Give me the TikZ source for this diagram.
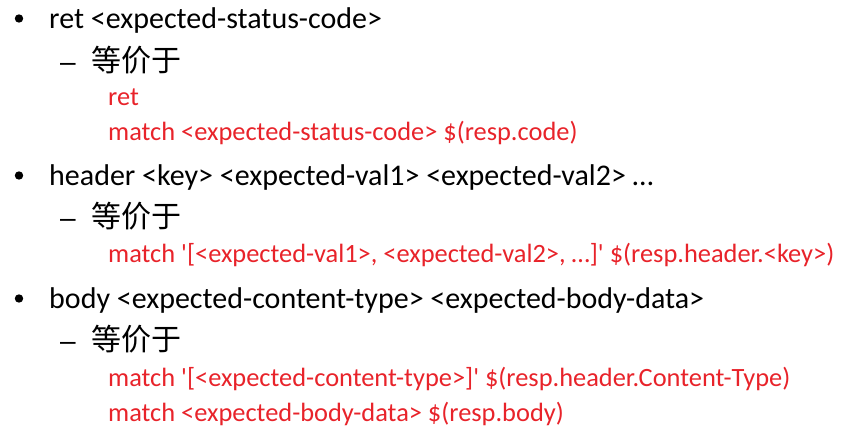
\documentclass[tikz,border=0pt]{standalone}
\usepackage{fontspec}
\setmainfont{Carlito}[Ligatures=TeXOff]
\newfontfamily\cjk{Noto Sans CJK SC}
\newfontfamily\dashfont{Liberation Sans}
\definecolor{redtxt}{RGB}{232,35,42}
\begin{document}
\begin{tikzpicture}[x=1pt,y=-1pt,
  main/.style={anchor=base west,inner sep=0pt,font=\fontsize{30}{36}\selectfont},
  zh/.style={anchor=base west,inner sep=0pt,font=\fontsize{30}{36}\selectfont\cjk},
  dashtxt/.style={anchor=base west,inner sep=0pt,font=\fontsize{28}{34}\selectfont\dashfont},
  redline/.style={anchor=base west,inner sep=0pt,text=redtxt,font=\fontsize{26.4}{32}\selectfont},
  bul/.style={fill=black}]
\useasboundingbox (0,0) rectangle (865,443);
% item 1
\fill[bul] (19,18.5) circle (4.2);
\node[main] (l1) at (49,29) {ret <expected-status-code>};
\node[dashtxt] (d1) at (60,72) {–};
\node[zh] (z1) at (91,72) {等价于};
\node[redline] (r1) at (108,106) {ret};
\node[redline] (r2) at (108,141) {match <expected-status-code> \$(resp.code)};
% item 2
\fill[bul] (19,175.5) circle (4.2);
\node[main] (l2) at (49,186) {header <key> <expected-val1> <expected-val2> …};
\node[dashtxt] (d2) at (60,228) {–};
\node[zh] (z2) at (91,228) {等价于};
\node[redline] (r3) at (108,263) {match '[<expected-val1>, <expected-val2>, …]' \$(resp.header.<key>)};
% item 3
\fill[bul] (19,298.5) circle (4.2);
\node[main] (l3) at (49,309) {body <expected-content-type> <expected-body-data>};
\node[dashtxt] (d3) at (60,351) {–};
\node[zh] (z3) at (91,351) {等价于};
\node[redline] (r4) at (108,387) {match '[<expected-content-type>]' \$(resp.header.Content-Type)};
\node[redline] (r5) at (108,422) {match <expected-body-data> \$(resp.body)};
\end{tikzpicture}
\end{document}
